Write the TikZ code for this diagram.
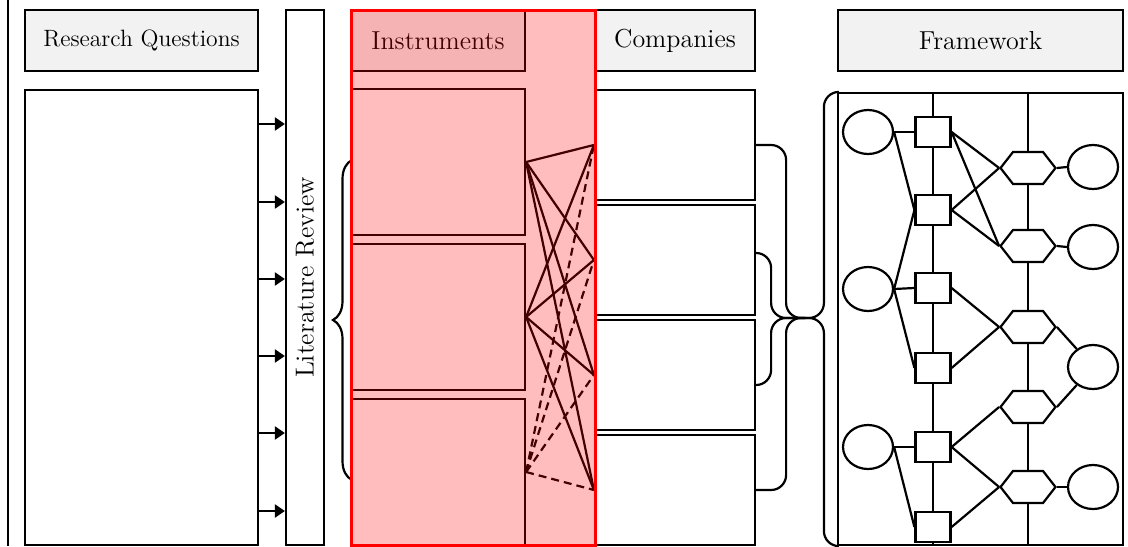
\documentclass[tikz,border=0pt,11pt]{standalone}
\usepackage{xcolor}
\usepackage{tikz}
\usetikzlibrary{arrows.meta, shapes.geometric, shapes.symbols, decorations.pathreplacing, calc}
\definecolor{hdrgray}{RGB}{242,242,242}

\tikzset{
  hdr/.style={draw, fill=hdrgray, line width=1.1pt, minimum height=30.5pt, inner sep=0pt},
  pane/.style={draw, fill=white, line width=1.1pt, inner sep=0pt},
  arr/.style={line width=1.1pt, -{Triangle[length=5pt,width=6.5pt]}},
  link/.style={line width=1.1pt},
  dlink/.style={line width=1.1pt, dash pattern=on 4pt off 2.5pt},
  bracket/.style={line width=1.1pt, rounded corners=7.5pt},
  ell/.style={ellipse, draw, fill=white, line width=1.1pt, minimum width=25pt, minimum height=22pt, inner sep=0pt},
  sq/.style={rectangle, draw, fill=white, line width=1.1pt, minimum width=17.5pt, minimum height=15pt, inner sep=0pt},
  hex/.style={signal, signal to=west and east, signal pointer angle=104, draw, fill=white, line width=1.1pt, minimum width=27.5pt, minimum height=16pt, inner sep=0pt}
}

\begin{document}
\begin{tikzpicture}[x=0.5pt, y=-0.5pt, font=\fontsize{13}{15}\selectfont]
  \useasboundingbox (0,0) rectangle (1128,546);
  \draw[link] (8,0) -- (8,546);

  % research questions
  \node[hdr, minimum width=116.5pt, font=\fontsize{11.8}{14}\selectfont] (rqhead) at (141.5,40.5) {Research Questions};
  \node[pane, minimum width=116.5pt, minimum height=227.5pt] (rqbody) at (141.5,317.5) {};
  \node[pane, minimum width=19pt, minimum height=267.5pt] (litrev) at (305,277.5) {};
  \node[rotate=90] (littext) at (litrev) {Literature Review};
  \foreach \y in {124,202,279,356,433,511}
    \draw[arr] (rqbody.east |- 0,\y) -- (litrev.west |- 0,\y);

  % brace towards the instruments
  \coordinate (bracetop) at (352,160);
  \coordinate (bracebot) at (352,480);
  \draw[line width=1.1pt, decorate, decoration={brace, amplitude=9.5pt}] (bracebot) -- (bracetop);

  % instruments
  \node[hdr, minimum width=87pt] (inshead) at (438,40.5) {Instruments};
  \node[pane, minimum width=87pt, minimum height=73pt] (ins1) at (438,162) {};
  \node[pane, minimum width=87pt, minimum height=73pt] (ins2) at (438,317) {};
  \node[pane, minimum width=87pt, minimum height=73pt] (ins3) at (438,472) {};

  % companies
  \node[hdr, minimum width=80pt] (comhead) at (675,40.5) {Companies};
  \node[pane, minimum width=80pt, minimum height=55pt] (com1) at (675,145) {};
  \node[pane, minimum width=80pt, minimum height=55pt] (com2) at (675,260) {};
  \node[pane, minimum width=80pt, minimum height=55pt] (com3) at (675,375) {};
  \node[pane, minimum width=80pt, minimum height=55pt] (com4) at (675,490) {};

  \foreach \i in {1,2}
    \foreach \c in {1,...,4}
      \draw[link] (ins\i.east) -- (com\c.west);
  \foreach \c in {1,...,4}
    \draw[dlink] (ins3.east) -- (com\c.west);

  % highlighted column
  \node[draw=red, line width=1.5pt, fill=red, fill opacity=0.26, minimum width=122pt, minimum height=267.5pt, inner sep=0pt] (focus) at (473,277.5) {};

  % framework
  \node[hdr, minimum width=142.5pt] (fwhead) at (980.5,40.5) {Framework};
  \node[pane, minimum width=142.5pt, minimum height=226pt] (fwbody) at (980.5,319) {};

  % brackets between companies and framework
  \coordinate (bjoin) at (805,318);
  \draw[bracket] (com1.east) -- ++(30,0) |- (bjoin);
  \draw[bracket] (com4.east) -- ++(30,0) |- (bjoin);
  \draw[bracket] ([yshift=3.5pt]com2.east) -- ++(15,0) |- (bjoin);
  \draw[bracket] ([yshift=-5pt]com3.east) -- ++(15,0) |- (bjoin);
  \draw[bracket] (fwbody.north west) -- ++(-13,0) |- (bjoin);
  \draw[bracket] (fwbody.south west) -- ++(-13,0) |- (bjoin);

  % framework graph
  \coordinate (colS) at (933,0);
  \coordinate (colH) at (1028,0);
  \draw[link] (colS |- fwbody.north) -- (colS |- fwbody.south);
  \draw[link] (colH |- fwbody.north) -- (colH |- fwbody.south);

  \node[ell] (l1) at (868,132) {};
  \node[ell] (l2) at (868,289) {};
  \node[ell] (l3) at (868,447) {};
  \node[sq] (s1) at (933,132) {};
  \node[sq] (s2) at (933,210) {};
  \node[sq] (s3) at (933,288) {};
  \node[sq] (s4) at (933,368) {};
  \node[sq] (s5) at (933,447) {};
  \node[sq] (s6) at (933,527) {};
  \node[hex] (h1) at (1028,168) {};
  \node[hex] (h2) at (1028,246) {};
  \node[hex] (h3) at (1028,327) {};
  \node[hex] (h4) at (1028,407) {};
  \node[hex] (h5) at (1028,487) {};
  \node[ell] (r1) at (1093,167) {};
  \node[ell] (r2) at (1093,247) {};
  \node[ell] (r3) at (1093,367) {};
  \node[ell] (r4) at (1093,487) {};

  \foreach \a/\b in {l1/s1, l1/s2, l2/s2, l2/s3, l2/s4, l3/s5, l3/s6,
                     s1/h1, s1/h2, s2/h1, s2/h2, s3/h3, s4/h3, s5/h4, s5/h5, s6/h5,
                     h1/r1, h2/r2, h5/r4}
    \draw[link] (\a.east) -- (\b.west);
  \draw[link] (h3.east) -- (r3);
  \draw[link] (h4.east) -- (r3);
\end{tikzpicture}
\end{document}
